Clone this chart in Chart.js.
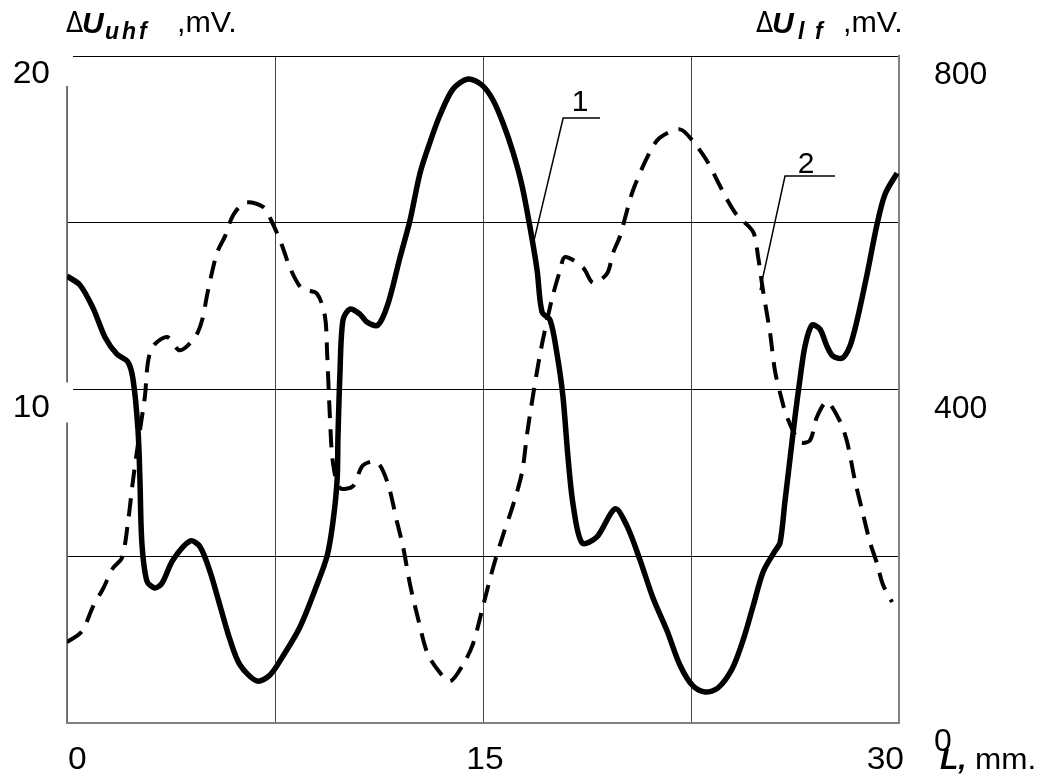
<!DOCTYPE html>
<html>
<head>
<meta charset="utf-8">
<script src="https://cdn.jsdelivr.net/npm/chart.js@4.4.1/dist/chart.umd.min.js"></script>
<style>
  html, body { margin: 0; padding: 0; background: #fff; }
  #wrap { width: 1047px; height: 778px; }
</style>
</head>
<body>
<div id="wrap"><canvas id="c" width="1047" height="778"></canvas></div>
<script>
// Curve 1 (solid, left axis, ΔU_uhf, mV) : L (mm) and value
const curve1L = [0,0.47,0.94,1.37,1.80,2.20,2.38,2.56,2.63,2.70,2.88,3.17,3.43,3.82,4.44,4.80,5.16,5.52,5.88,6.24,6.85,7.32,7.79,8.40,9.01,9.38,9.59,9.74,9.77,9.84,9.95,10.20,10.56,10.82,11.21,11.57,12.01,12.37,12.73,13.09,13.45,13.92,14.46,14.96,15.36,15.72,16.08,16.41,16.70,16.95,17.13,17.42,17.67,17.88,18.07,18.25,18.57,19.11,19.76,20.19,20.66,21.13,21.64,22.10,22.57,23.01,23.47,23.98,24.38,24.74,25.10,25.53,25.71,25.89,26.07,26.25,26.43,26.61,26.86,27.15,27.40,27.62,27.95,28.23,28.49,28.85,29.21,29.50,29.93];
const curve1V = [13.40,13.13,12.44,11.57,11.06,10.82,10.31,8.79,7.29,5.40,4.26,4.05,4.20,4.89,5.46,5.28,4.53,3.51,2.49,1.74,1.26,1.44,2.01,2.88,4.14,5.01,6.03,7.29,8.55,10.43,12.08,12.41,12.26,12.02,11.93,12.56,13.97,15.08,16.49,17.42,18.23,19.01,19.31,19.13,18.68,17.99,17.12,16.10,14.84,13.58,12.32,12.08,11.06,9.81,7.92,6.54,5.40,5.58,6.42,5.91,4.89,3.75,2.76,1.74,1.11,0.93,1.05,1.62,2.49,3.51,4.53,5.16,5.40,6.66,7.92,9.18,10.31,11.30,11.93,11.81,11.30,11.00,10.94,11.30,12.08,13.46,14.96,15.86,16.49];

// Curve 2 (dashed, right axis, ΔU_lf, mV)
const curve2L = [0,0.54,0.94,1.30,1.66,1.98,2.20,2.38,2.63,2.81,2.92,3.10,3.61,4.07,4.62,4.87,5.08,5.41,5.70,5.99,6.42,7.07,7.43,7.75,8.04,8.47,9.01,9.30,9.38,9.48,9.59,9.84,10.31,10.67,11.18,11.57,11.90,12.12,12.37,12.66,12.98,13.34,13.81,14.28,14.64,15.00,15.36,15.72,16.08,16.41,16.59,16.80,17.06,17.31,17.52,17.78,17.96,18.61,18.97,19.47,19.69,19.94,20.41,21.02,21.38,22.10,22.54,23.08,23.44,23.80,24.16,24.74,24.92,25.10,25.35,25.53,25.78,25.96,26.43,26.79,27.04,27.40,27.87,28.13,28.41,28.70,28.96,29.21,29.42,29.75];
const curve2V = [97,110,140,161,186,198,241,291,351,392,433,452,463,447,463,483,518,564,584,609,624,619,598,573,546,521,515,488,443,367,312,282,284,309,313,287,241,211,166,125,85,65,50,70,95,140,186,225,261,301,347,392,443,483,513,543,559,546,528,539,564,584,639,685,702,712,699,674,651,628,609,589,559,518,468,422,387,367,337,339,367,385,362,337,291,251,216,191,166,145];

// Tick labels
const xTickLabels = [0, 15, 30];
const yLeftTickLabels = [10, 20];
const yRightTickLabels = [0, 400, 800];

// Leader annotations (data units on x / left axis)
const leader1 = { label: '1', pts: [[16.80,14.33],[17.89,18.14],[19.22,18.14]], text: [18.5,18.35] };
const leader2 = { label: '2', pts: [[24.99,12.98],[25.89,16.40],[27.69,16.40]], text: [26.65,16.5] };

const toXY = (xs, ys) => xs.map((x, i) => ({ x: x, y: ys[i] }));

const FAM = '"Liberation Sans", Arial, sans-serif';

const overlay = {
  id: 'overlay',
  afterDraw(chart) {
    const ctx = chart.ctx;
    const xs = chart.scales.x, ys = chart.scales.y, ys2 = chart.scales.y2;
    const area = chart.chartArea;
    ctx.save();
    // gaps in the left axis line / grid start
    ctx.fillStyle = '#fff';
    ctx.fillRect(area.left - 3, area.top - 2, 9, 32);
    ctx.fillRect(area.left - 3, ys.getPixelForValue(10) - 7, 9, 40);
    ctx.fillRect(area.left - 3, ys.getPixelForValue(10) - 1, 9, 3);

    ctx.fillStyle = '#000';
    ctx.textBaseline = 'alphabetic';
    function txt(t, font, x, y, align, sx) {
      ctx.save();
      ctx.font = font;
      ctx.textAlign = align || 'left';
      ctx.translate(x, y);
      ctx.scale(sx || 1, 1);
      ctx.fillText(t, 0, 0);
      ctx.restore();
    }
    const tickF = '32px ' + FAM;
    // tick labels
    yLeftTickLabels.forEach(v => txt(String(v), tickF, area.left - 17, ys.getPixelForValue(v) + 27, 'right', 1.05));
    yRightTickLabels.forEach(v => txt(String(v), tickF, area.right + 35, ys2.getPixelForValue(v) + 28, 'left', 1.0));
    xTickLabels.forEach((v, i) => {
      const p = xs.getPixelForValue(v);
      const al = i === 0 ? 'left' : (i === xTickLabels.length - 1 ? 'right' : 'center');
      const dx = i === 0 ? 1 : (i === xTickLabels.length - 1 ? 5 : 2);
      txt(String(v), tickF, p + dx, area.bottom + 46, al, 1.05);
    });

    // leader lines
    ctx.strokeStyle = '#000';
    ctx.lineWidth = 1.5;
    [leader1, leader2].forEach(ld => {
      ctx.beginPath();
      ld.pts.forEach((p, i) => {
        const px = xs.getPixelForValue(p[0]), py = ys.getPixelForValue(p[1]);
        if (i === 0) ctx.moveTo(px, py); else ctx.lineTo(px, py);
      });
      ctx.stroke();
      txt(ld.label, '30px ' + FAM, xs.getPixelForValue(ld.text[0]), ys.getPixelForValue(ld.text[1]), 'center', 1.0);
    });

    // axis titles
    const reg = '29px ' + FAM;
    const delta = '28px "DejaVu Sans", ' + FAM;
    const bi = 'italic bold 30px ' + FAM;
    const sub = 'italic bold 23px ' + FAM;
    // left title
    txt('\u0394', delta, 66, 32, 'left', 0.9);
    txt('U', bi, 82, 33, 'left', 1.0);
    txt('u', sub, 105, 39); txt('h', sub, 122, 39); txt('f', sub, 139, 39);
    txt(',mV.', reg, 177, 32, 'left', 1.05);
    // right title
    txt('\u0394', delta, 756, 32, 'left', 0.9);
    txt('U', bi, 772, 33, 'left', 1.0);
    txt('l', sub, 798, 39); txt('f', sub, 815, 39);
    txt(',mV.', reg, 843, 32, 'left', 1.05);
    // x title
    txt('L,', 'italic bold 30px ' + FAM, 940, 769, 'left', 1.0);
    txt('mm.', '30px ' + FAM, 975, 769, 'left', 1.05);
    ctx.restore();
  }
};

new Chart(document.getElementById('c'), {
  type: 'line',
  data: {
    datasets: [
      {
        label: '1',
        data: toXY(curve1L, curve1V),
        yAxisID: 'y',
        borderColor: '#000',
        borderWidth: 5.5,
        pointRadius: 0,
        tension: 0.3,
        fill: false
      },
      {
        label: '2',
        data: toXY(curve2L, curve2V),
        yAxisID: 'y2',
        borderColor: '#000',
        borderWidth: 4,
        borderDash: [18, 11],
        borderCapStyle: 'butt',
        pointRadius: 0,
        tension: 0.3,
        fill: false
      }
    ]
  },
  options: {
    responsive: false,
    animation: false,
    devicePixelRatio: 1,
    layout: { padding: { top: 56, left: 0, right: 0, bottom: 0 } },
    plugins: { legend: { display: false }, tooltip: { enabled: false }, title: { display: false } },
    scales: {
      x: {
        type: 'linear', min: 0, max: 30,
        ticks: { stepSize: 7.5, autoSkip: false, maxRotation: 0, display: false },
        grid: { color: '#444', lineWidth: 1, drawTicks: false },
        border: { color: '#808080', width: 2 },
        afterFit: s => { s.height = 55; }
      },
      y: {
        type: 'linear', position: 'left', min: 0, max: 20,
        ticks: { stepSize: 5, display: false },
        grid: { color: '#000', lineWidth: 1, drawTicks: false },
        border: { color: '#808080', width: 1.5 },
        afterFit: s => { s.width = 67; }
      },
      y2: {
        type: 'linear', position: 'right', min: 0, max: 800,
        ticks: { stepSize: 400, display: false },
        grid: { display: false, drawTicks: false },
        border: { color: '#808080', width: 2 },
        afterFit: s => { s.width = 148; }
      }
    }
  },
  plugins: [overlay]
});
</script>
</body>
</html>
